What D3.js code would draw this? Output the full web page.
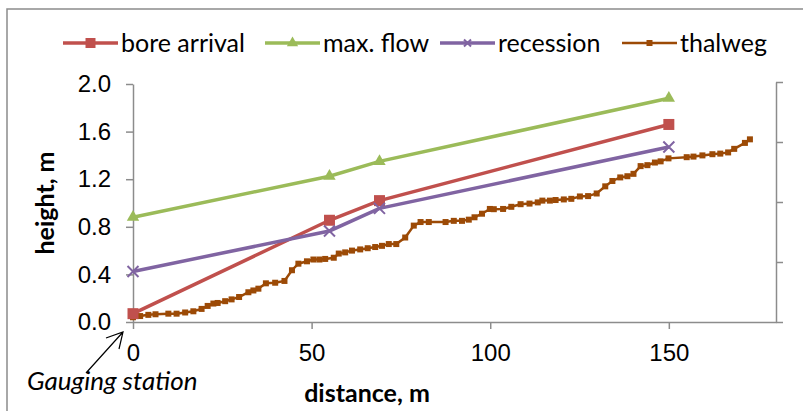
<!DOCTYPE html>
<html>
<head>
<meta charset="utf-8">
<script src="https://cdn.jsdelivr.net/npm/d3@7"></script>
<style>
  body { margin: 0; background: #fff; }
  svg { display: block; font-family: Lato, "Liberation Sans", sans-serif; }
  .axis path, .axis line { stroke: #8c8c8c; stroke-width: 1.5; }
  .axis text { font-size: 24px; fill: #000; }
</style>
</head>
<body>
<div id="chart"></div>
<script>
// distances (m) of the measured stations
var stations = [0, 55, 69, 150];
var boreArrival = [0.07, 0.855, 1.02, 1.66];
var maxFlow = [0.88, 1.225, 1.35, 1.88];
var recession = [0.425, 0.765, 0.955, 1.47];

// thalweg profile
var thalwegX = [0, 2, 4.3, 6.3, 9.9, 12.2, 14.6, 16.9, 19.2, 20.9, 22.5, 23.7, 25.8, 27.6, 29.7,
    32.3, 33.7, 35.1, 37.2, 39.8, 42.4, 44.5, 46.3, 48.7, 50.5, 52.2, 53.8, 56.2, 57.6, 59.4,
    61.3, 63.6, 65.7, 67.8, 69.7, 71.6, 73.7, 76.2, 78.6, 80.5, 82.8, 87.5, 89.8, 92.1, 94,
    95.6, 97.7, 99.9, 101, 103.6, 105.9, 108.5, 111, 113.3, 114.6, 116.7, 118.3, 120.6, 122.7,
    125.1, 127.4, 129.8, 132.2, 134.2, 136.4, 138.4, 140.1, 142.1, 144, 146.1, 147.7, 149.9,
    155, 156.9, 159.4, 162.2, 164.4, 166.6, 168.3, 171.3, 172.7];
var thalwegY = [0.04, 0.05, 0.06, 0.065, 0.07, 0.07, 0.08, 0.09, 0.11, 0.135, 0.155, 0.16, 0.175, 0.19, 0.21,
    0.25, 0.265, 0.28, 0.325, 0.33, 0.345, 0.435, 0.49, 0.51, 0.525, 0.525, 0.53, 0.54, 0.575, 0.585,
    0.6, 0.61, 0.62, 0.63, 0.64, 0.655, 0.655, 0.71, 0.81, 0.84, 0.84, 0.84, 0.85, 0.85, 0.86,
    0.88, 0.91, 0.95, 0.948, 0.95, 0.968, 0.99, 0.995, 1.005, 1.02, 1.02, 1.025, 1.03, 1.035,
    1.055, 1.058, 1.08, 1.14, 1.185, 1.215, 1.225, 1.245, 1.31, 1.318, 1.34, 1.35, 1.375,
    1.385, 1.39, 1.4, 1.41, 1.415, 1.425, 1.455, 1.505, 1.535];

var xTicks = [0, 50, 100, 150];
var yTicks = [0, 0.4, 0.8, 1.2, 1.6, 2.0];
var seriesNames = ["bore arrival", "max. flow", "recession", "thalweg"];
var colors = ["#c0504d", "#9bbb59", "#8064a2", "#9c4a06"];

var svgWidth = 803, svgHeight = 411;
var margin = { top: 84, right: 27, bottom: 89, left: 133 };
var width = svgWidth - margin.left - margin.right;
var height = svgHeight - margin.top - margin.bottom;

var svg = d3.select("#chart").append("svg")
    .attr("width", svgWidth)
    .attr("height", svgHeight);

// outer frame
svg.append("rect")
    .attr("x", 7).attr("y", 9)
    .attr("width", 900).attr("height", 500)
    .attr("fill", "none")
    .attr("stroke", "#8c8c8c")
    .attr("stroke-width", 1.5);

var g = svg.append("g")
    .attr("transform", `translate(${margin.left}, ${margin.top})`);

var x = d3.scaleLinear().domain([0, 180]).range([0, width]);
var y = d3.scaleLinear().domain([0, 2]).range([height, 0]);
var y2 = d3.scaleLinear().domain([0, 4]).range([height, -2]);

// axes
g.append("g")
    .attr("class", "axis")
    .attr("transform", `translate(0, ${height})`)
    .call(d3.axisBottom(x).tickValues(xTicks).tickSize(7).tickSizeOuter(0).tickPadding(15));

g.append("g")
    .attr("class", "axis")
    .call(d3.axisLeft(y).tickValues(yTicks).tickFormat(d3.format(".1f")).tickSize(7).tickSizeOuter(0).tickPadding(15));

g.append("g")
    .attr("class", "axis")
    .attr("transform", `translate(${width}, 0)`)
    .call(d3.axisRight(y2).ticks(4).tickSize(7).tickSizeOuter(0).tickFormat(""));

// axis titles
svg.append("text")
    .attr("transform", `translate(54, ${margin.top + height / 2}) rotate(-90)`)
    .attr("text-anchor", "middle")
    .attr("font-size", 25)
    .attr("font-weight", "bold")
    .text("height, m");

svg.append("text")
    .attr("x", 367)
    .attr("y", 402)
    .attr("text-anchor", "middle")
    .attr("font-size", 25)
    .attr("font-weight", "bold")
    .text("distance, m");

// series lines
var line = d3.line()
    .x((d) => x(d[0]))
    .y((d) => y(d[1]));

var mainSeries = [boreArrival, maxFlow, recession];
var markerTypes = ["square", "triangle", "times"];

function marker(sel, type, color, size) {
    if (type === "times") {
        var s = size / 2;
        sel.append("path")
            .attr("d", `M${-s},${-s}L${s},${s}M${-s},${s}L${s},${-s}`)
            .attr("stroke", color)
            .attr("stroke-width", 2)
            .attr("fill", "none");
    } else {
        var sym = type === "square" ? d3.symbolSquare : d3.symbolTriangle;
        sel.append("path")
            .attr("d", d3.symbol().type(sym).size(size * size * (type === "triangle" ? 0.55 : 1))())
            .attr("fill", color);
    }
}

// thalweg
var thalweg = thalwegX.map((d, i) => [d, thalwegY[i]]);
g.append("path")
    .datum(thalweg)
    .attr("d", line)
    .attr("fill", "none")
    .attr("stroke", colors[3])
    .attr("stroke-width", 2.5);
g.selectAll(".tw")
    .data(thalweg)
    .enter().append("rect")
    .attr("class", "tw")
    .attr("x", (d) => x(d[0]) - 3)
    .attr("y", (d) => y(d[1]) - 3)
    .attr("width", 6)
    .attr("height", 6)
    .attr("fill", colors[3]);

mainSeries.forEach((vals, k) => {
    var pts = stations.map((d, i) => [d, vals[i]]);
    g.append("path")
        .datum(pts)
        .attr("d", line)
        .attr("fill", "none")
        .attr("stroke", colors[k])
        .attr("stroke-width", 3.5);
    pts.forEach((p) => {
        var m = g.append("g").attr("transform", `translate(${x(p[0])}, ${y(p[1])})`);
        marker(m, markerTypes[k], colors[k], 11);
    });
});

// legend
var legendLineX = [63, 265, 440, 622];
var legend = svg.append("g");
seriesNames.forEach((name, k) => {
    var lg = legend.append("g").attr("transform", `translate(${legendLineX[k]}, 43)`);
    lg.append("line")
        .attr("x1", 0).attr("x2", 55)
        .attr("stroke", colors[k])
        .attr("stroke-width", k === 3 ? 2.5 : 3.5);
    var m = lg.append("g").attr("transform", "translate(27.5, 0)");
    if (k === 3) {
        m.append("rect").attr("x", -3).attr("y", -3).attr("width", 6).attr("height", 6).attr("fill", colors[3]);
    } else {
        marker(m, markerTypes[k], colors[k], k === 2 ? 7 : 10);
    }
    lg.append("text")
        .attr("x", 58)
        .attr("dy", "0.35em")
        .attr("font-size", 25)
        .text(name);
});

// gauging station annotation
var tipX = x(0) + margin.left - 10, tipY = y(0) + margin.top + 10;
svg.append("path")
    .attr("d", `M${tipX - 37},${tipY + 41}L${tipX},${tipY}M${tipX - 17},${tipY + 6}L${tipX},${tipY}L${tipX - 4},${tipY + 17}`)
    .attr("fill", "none")
    .attr("stroke", "#000")
    .attr("stroke-width", 1.2);

svg.append("text")
    .attr("x", 27)
    .attr("y", 390)
    .attr("font-size", 26)
    .attr("font-style", "italic")
    .text("Gauging station");
</script>
</body>
</html>
